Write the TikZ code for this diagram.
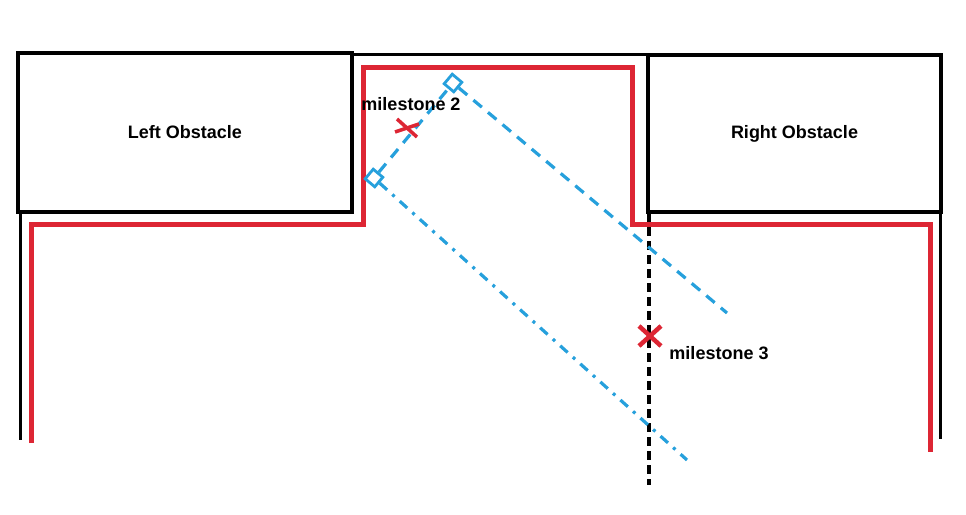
\documentclass[tikz,border=0pt]{standalone}
\usepackage{fontspec}
\setmainfont{Liberation Sans}
\usetikzlibrary{calc}
\definecolor{wallred}{RGB}{221,38,52}
\definecolor{pathblue}{RGB}{38,160,220}
\begin{document}
\begin{tikzpicture}[x=1pt,y=-1pt,
  obst/.style={draw=black,line width=4.5pt,font=\bfseries\fontsize{18}{20}\selectfont},
  thinwall/.style={draw=black,line width=3pt},
  redpath/.style={draw=wallred,line width=5pt},
  bluedash/.style={draw=pathblue,line width=3.2pt,dash pattern=on 11pt off 8pt},
  bluedashdot/.style={draw=pathblue,line width=3.2pt,dash pattern=on 10pt off 7pt on 3pt off 7pt},
  corner/.style={draw=pathblue,line width=2.8pt,minimum size=12.5pt,inner sep=0pt,rotate=50},
  mslabel/.style={font=\bfseries\fontsize{18}{20}\selectfont,inner sep=0pt},
  cross/.style={draw=wallred,line width=3.5pt},
  blackdash/.style={draw=black,line width=4.5pt,dash pattern=on 9pt off 5pt}]
\useasboundingbox (0,0) rectangle (966,514);
% obstacles
\node[obst,minimum width=334pt,minimum height=159pt] (L) at (185,132.5) {Left Obstacle};
\node[obst,minimum width=293pt,minimum height=157pt] (R) at (794.5,133.5) {Right Obstacle};
\coordinate (topl) at (352,54);
\coordinate (topr) at (648,54);
\draw[thinwall] (topl) -- (topr);
% side walls
\draw[thinwall] (20,212) -- (20,440);
\draw[thinwall] (940,212) -- (940,439);
% red path
\draw[redpath] (31,443) |- (363,224) |- (632,67) |- (930,224) -- (930,452);
% black dashed vertical
\coordinate (vtop) at (649,213);
\coordinate (vbot) at (649,485);
\draw[blackdash] (vtop) -- (vbot);
% blue corners and lines
\node[corner] (d1) at (453,83) {};
\node[corner] (d2) at (374,178) {};
\coordinate (e1) at (727,313);
\coordinate (e2) at (687,460);
\draw[bluedash] (d2) -- (d1);
\draw[bluedash] (d1) -- (e1);
\draw[bluedashdot] (d2) -- (e2);
% milestone 2
\coordinate (m2) at (407,128);
\draw[cross] ($(m2)+(-10,-9)$) -- ($(m2)+(10,9)$);
\draw[cross] ($(m2)+(-12,4)$) -- ($(m2)+(12,-4)$);
\node[mslabel] (t2) at (411,104) {milestone 2};
% milestone 3
\coordinate (m3) at (650,336);
\draw[cross,line width=4.5pt] ($(m3)+(-11,-10)$) -- ($(m3)+(11,10)$);
\draw[cross,line width=4.5pt] ($(m3)+(-11,10)$) -- ($(m3)+(11,-10)$);
\node[mslabel] (t3) at (719,353) {milestone 3};
\end{tikzpicture}
\end{document}
